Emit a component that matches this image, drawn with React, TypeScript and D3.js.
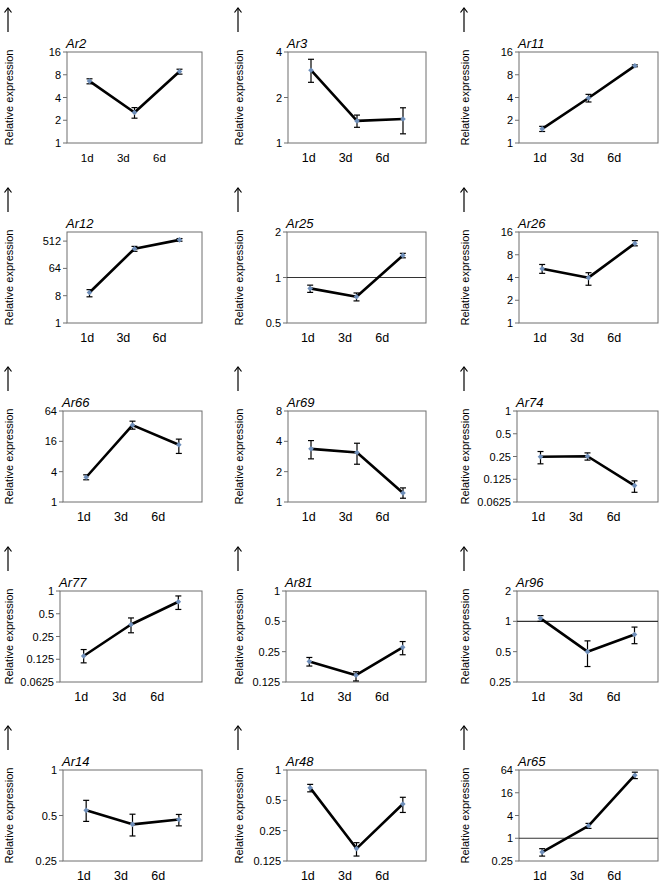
import React from "react";
import * as d3 from "d3";

const categories = ["1d", "3d", "6d"];
const genes = ["Ar2", "Ar3", "Ar11", "Ar12", "Ar25", "Ar26", "Ar66", "Ar69", "Ar74", "Ar77", "Ar81", "Ar96", "Ar14", "Ar48", "Ar65"];
const means = [
  [6.59, 2.53, 8.82],
  [3.03, 1.4, 1.44],
  [1.54, 3.94, 10.5],
  [10.2, 287, 563],
  [0.847, 0.746, 1.4],
  [5.22, 3.98, 11.3],
  [3.1, 33.5, 13.7],
  [3.37, 3.1, 1.23],
  [0.248, 0.252, 0.103],
  [0.138, 0.36, 0.72],
  [0.2, 0.146, 0.276],
  [1.07, 0.5, 0.74],
  [0.541, 0.437, 0.47],
  [0.665, 0.166, 0.46],
  [0.43, 2.14, 46.5],
];
const errLow = [
  [6.07, 2.13, 8.15],
  [2.52, 1.27, 1.15],
  [1.42, 3.49, 10.2],
  [7.35, 235, 509],
  [0.797, 0.7, 1.35],
  [4.54, 3.16, 10.5],
  [2.76, 27.9, 9.2],
  [2.68, 2.37, 1.09],
  [0.2, 0.224, 0.084],
  [0.112, 0.28, 0.57],
  [0.18, 0.128, 0.233],
  [1.0, 0.356, 0.6],
  [0.457, 0.366, 0.427],
  [0.607, 0.14, 0.379],
  [0.337, 1.82, 37.9],
];
const errHigh = [
  [7.07, 2.94, 9.47],
  [3.58, 1.53, 1.71],
  [1.66, 4.4, 10.8],
  [12.7, 342, 622],
  [0.89, 0.79, 1.445],
  [5.95, 4.63, 12.3],
  [3.46, 40.2, 17.7],
  [4.07, 3.83, 1.38],
  [0.291, 0.279, 0.119],
  [0.168, 0.44, 0.86],
  [0.219, 0.158, 0.315],
  [1.14, 0.64, 0.877],
  [0.63, 0.51, 0.508],
  [0.72, 0.19, 0.536],
  [0.53, 2.47, 56],
];
const yDomains = [
  [1, 16], [1, 4], [1, 16],
  [1, 1024], [0.5, 2], [1, 16],
  [1, 64], [1, 8], [0.0625, 1],
  [0.0625, 1], [0.125, 1], [0.25, 2],
  [0.25, 1], [0.125, 1], [0.25, 64],
];
const yTicks = [
  [1, 2, 4, 8, 16], [1, 2, 4], [1, 2, 4, 8, 16],
  [1, 8, 64, 512], [0.5, 1, 2], [1, 2, 4, 8, 16],
  [1, 4, 16, 64], [1, 2, 4, 8], [0.0625, 0.125, 0.25, 0.5, 1],
  [0.0625, 0.125, 0.25, 0.5, 1], [0.125, 0.25, 0.5, 1], [0.25, 0.5, 1, 2],
  [0.25, 0.5, 1], [0.125, 0.25, 0.5, 1], [0.25, 1, 4, 16, 64],
];
const refLineGenes = ["Ar25", "Ar96", "Ar65"];
const yAxisTitle = "Relative expression";

// layout
const rowTops = [52, 232, 411, 591, 770];
const boxH = 91;
const colBase = [0, 230, 456];
const boxLefts = [
  [67, 288, 519],
  [67, 287, 519],
  [63, 288, 517],
  [60, 286, 517],
  [63, 287, 519],
];
const boxRights = [202, 426, 658];
const FONT = "'Liberation Sans', Arial, sans-serif";

function Panel({ idx }: { idx: number }) {
  const row = Math.floor(idx / 3);
  const col = idx % 3;
  const top = rowTops[row];
  const bottom = top + boxH;
  const left = boxLefts[row][col];
  const right = boxRights[col];
  const w = right - left;
  const gene = genes[idx];
  const y = d3.scaleLog().domain(yDomains[idx]).range([bottom, top]);
  const xb = d3.scaleBand().domain(categories).range([left, right]);
  const xp = (c: string) => (xb(c) as number) + xb.bandwidth() / 2;
  const xl = d3.scalePoint().domain(categories).range([left + 0.15 * w, left + 0.685 * w]);
  const line = d3.line<number>().x((_, i) => xp(categories[i])).y((v) => y(v));
  const ax = colBase[col] + 8;
  const tx = colBase[col] + 9;
  const cy = (top + bottom) / 2;
  const axisColor = "#6e6e6e";
  const xFont = idx === 0 ? 11.5 : 12.5;
  return (
    <g>
      <line x1={ax} x2={ax} y1={top - 44} y2={top - 20} stroke="#000" strokeWidth={1.2} />
      <path d={`M${ax - 3.5},${top - 39.5} L${ax},${top - 44} L${ax + 3.5},${top - 39.5}`} fill="none" stroke="#000" strokeWidth={1.2} />
      <text
        transform={`translate(${tx},${cy}) rotate(-90)`}
        textAnchor="middle"
        dominantBaseline="central"
        fontFamily={FONT}
        fontSize={11}
        fill="#000"
      >
        {yAxisTitle}
      </text>
      <text x={left - 1} y={top - 4} fontFamily={FONT} fontStyle="italic" fontSize={13} fill="#000">
        {gene}
      </text>
      <rect x={left} y={top} width={w} height={boxH} fill="none" stroke={axisColor} strokeWidth={1} />
      {yTicks[idx].map((t) => (
        <g key={t}>
          <line x1={left - 4} x2={left} y1={y(t)} y2={y(t)} stroke={axisColor} strokeWidth={1} />
          <text x={left - 6} y={y(t)} textAnchor="end" dominantBaseline="central" fontFamily={FONT} fontSize={11} fill="#000">
            {String(t)}
          </text>
        </g>
      ))}
      {refLineGenes.includes(gene) && (
        <line x1={left} x2={right} y1={y(1)} y2={y(1)} stroke="#333" strokeWidth={1.1} />
      )}
      {categories.map((c) => (
        <text key={c} x={xl(c)} y={bottom + 19} textAnchor="middle" fontFamily={FONT} fontSize={xFont} fill="#000">
          {c}
        </text>
      ))}
      <path d={line(means[idx]) || ""} fill="none" stroke="#000" strokeWidth={2.6} strokeLinejoin="round" />
      {categories.map((c, i) => {
        const px = xp(c);
        const y1 = y(errHigh[idx][i]);
        const y2 = y(errLow[idx][i]);
        return (
          <g key={c}>
            <line x1={px} x2={px} y1={y1} y2={y2} stroke="#000" strokeWidth={1.2} />
            <line x1={px - 3} x2={px + 3} y1={y1} y2={y1} stroke="#000" strokeWidth={1.2} />
            <line x1={px - 3} x2={px + 3} y1={y2} y2={y2} stroke="#000" strokeWidth={1.2} />
          </g>
        );
      })}
      {categories.map((c, i) => {
        const px = xp(c);
        const py = y(means[idx][i]);
        return (
          <path key={c} d={`M${px},${py - 2.8} L${px + 2.8},${py} L${px},${py + 2.8} L${px - 2.8},${py} Z`} fill="#6f8fba" />
        );
      })}
    </g>
  );
}

export default function App() {
  return (
    <svg
      width={661}
      height={882}
      viewBox="0 0 661 882"
      style={{ position: "absolute", left: 0, top: 0, background: "#fff" }}
    >
      <rect width={661} height={882} fill="#fff" />
      {genes.map((g, i) => (
        <Panel key={g} idx={i} />
      ))}
    </svg>
  );
}
